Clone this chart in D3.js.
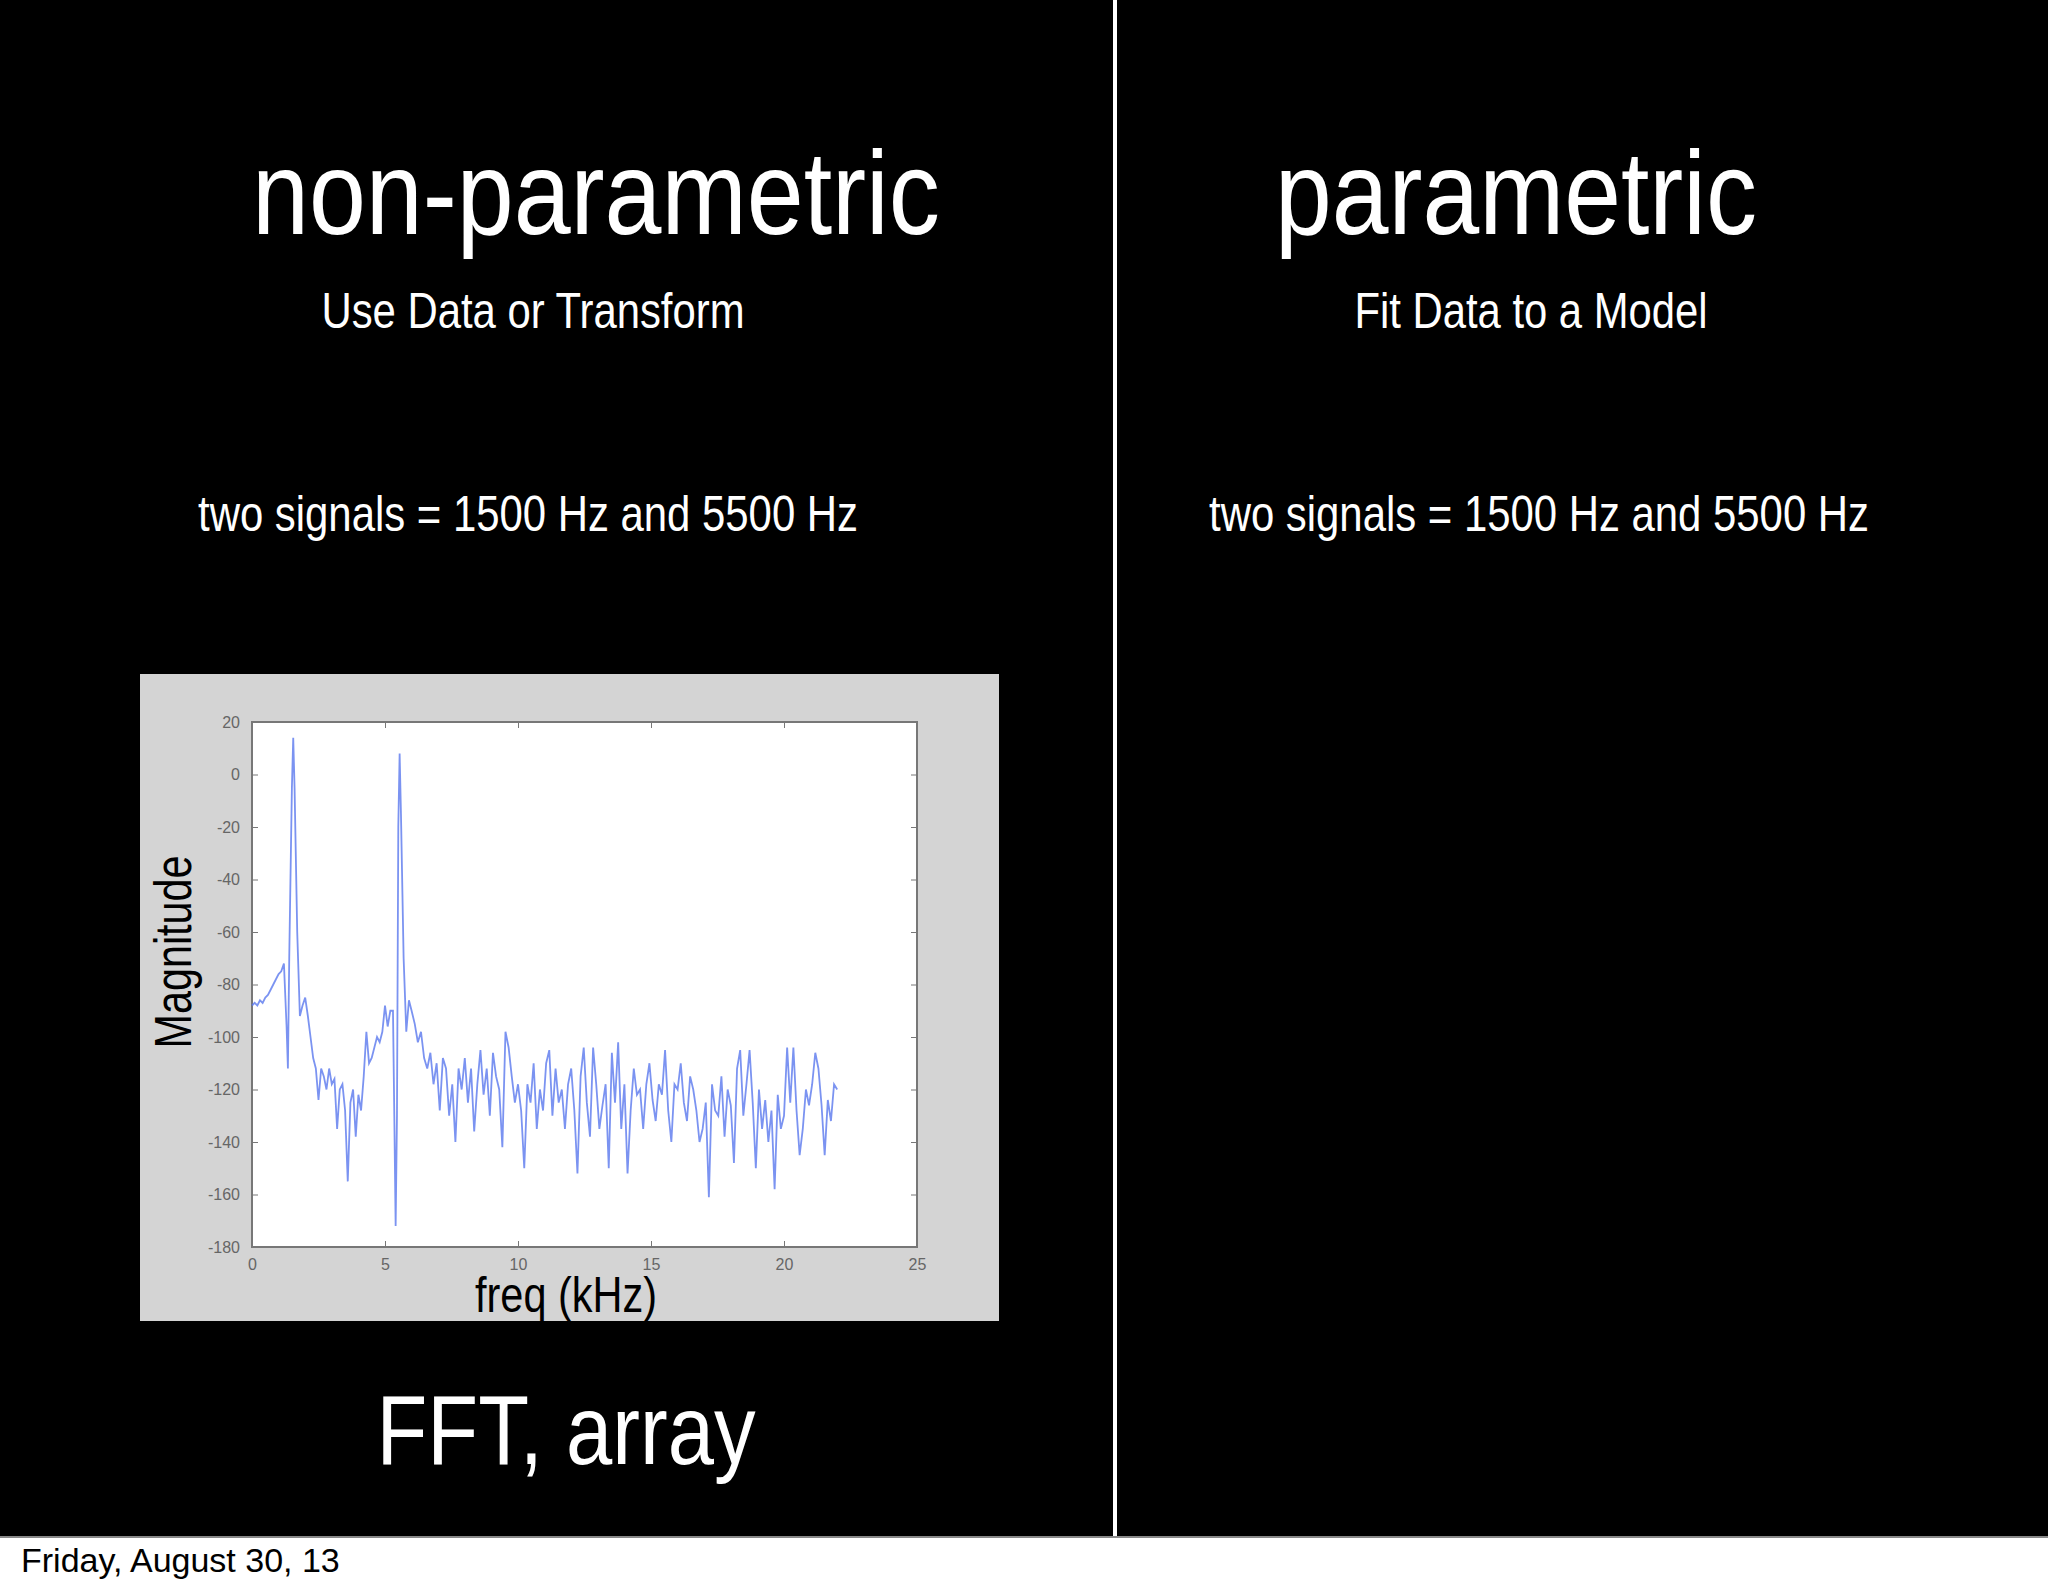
<!DOCTYPE html>
<html><head><meta charset="utf-8">
<script src="https://cdn.jsdelivr.net/npm/d3@7"></script>
<style>body{margin:0;background:#fff}</style></head>
<body><svg id="c" width="2048" height="1593"></svg>
<script>
const xTicks=[0,5,10,15,20,25];
const yTicks=[20,0,-20,-40,-60,-80,-100,-120,-140,-160,-180];
const freqLow=[0,0.1,0.2,0.3,0.4,0.5,0.6,0.7,0.8,0.9,1.0,1.1,1.2,1.3,1.35,1.4,1.5,1.55,1.6,1.7,1.8,1.9,2.0,2.1,2.2,2.3,2.4,2.5,2.6,2.7,2.8,2.9,3.0,3.1,3.2,3.3,3.4,3.5,3.6,3.7,3.8,3.9,4.0,4.1,4.2,4.3,4.4,4.5,4.6,4.7,4.8,4.9,5.0,5.1,5.2,5.3,5.35,5.4,5.45,5.5,5.55,5.6,5.7,5.8,5.9];
const magLow=[-88,-87,-88,-86,-87,-85,-84,-82,-80,-78,-76,-75,-72,-96,-112,-70,-5,14,-5,-60,-92,-88,-85,-92,-100,-108,-112,-124,-112,-115,-120,-112,-118,-116,-135,-120,-118,-128,-155,-125,-120,-138,-122,-128,-115,-98,-110,-108,-104,-100,-102,-98,-88,-96,-90,-90,-130,-172,-130,-20,8,-15,-70,-98,-86];
const magHigh=[-90,-95,-102,-98,-108,-112,-106,-118,-110,-128,-108,-112,-130,-118,-140,-112,-120,-108,-125,-112,-136,-118,-105,-122,-112,-130,-106,-115,-120,-142,-98,-104,-115,-125,-118,-128,-150,-118,-125,-110,-135,-120,-128,-110,-105,-130,-112,-125,-120,-135,-118,-112,-128,-152,-115,-104,-125,-138,-104,-118,-135,-126,-118,-150,-106,-125,-102,-135,-118,-152,-128,-112,-122,-120,-135,-118,-110,-124,-132,-118,-122,-105,-128,-140,-118,-120,-110,-125,-132,-115,-120,-128,-140,-135,-125,-161,-118,-128,-130,-115,-138,-120,-126,-148,-112,-105,-130,-118,-105,-125,-150,-120,-135,-124,-140,-128,-158,-122,-135,-130,-104,-125,-104,-128,-145,-135,-120,-126,-118,-106,-112,-126,-145,-124,-132,-118,-120];
const freqHigh=magHigh.map((d,i)=>+(6.0+i*(22.0-6.0)/(magHigh.length-1)).toFixed(3));
const data=freqLow.map((f,i)=>[f,magLow[i]]).concat(freqHigh.map((f,i)=>[f,magHigh[i]]));

const svg=d3.select("#c");
svg.append("rect").attr("width",2048).attr("height",1537).attr("fill","#000");
svg.append("line").attr("x1",1115).attr("x2",1115).attr("y1",0).attr("y2",1537).attr("stroke","#fff").attr("stroke-width",4);
svg.append("line").attr("x1",0).attr("x2",2048).attr("y1",1537).attr("y2",1537).attr("stroke","#888").attr("stroke-width",2);
const F="'Liberation Sans',sans-serif";
function t(x,y,s,txt,len,fill){return svg.append("text").attr("x",x).attr("y",y).attr("font-size",s).attr("font-family",F).attr("fill",fill||"#fff").attr("text-anchor","middle").attr("textLength",len).attr("lengthAdjust","spacingAndGlyphs").text(txt);}
t(596,234,118,"non-parametric",688);
t(533,328,50,"Use Data or Transform",423);
t(1516,234,118,"parametric",482);
t(1531,328,50,"Fit Data to a Model",353);
t(528,531,50,"two signals = 1500 Hz and 5500 Hz",660);
t(1539,531,50,"two signals = 1500 Hz and 5500 Hz",660);
t(566,1464,98,"FFT, array",379);
svg.append("text").attr("x",21).attr("y",1572).attr("font-size",34).attr("font-family",F).attr("fill","#000").text("Friday, August 30, 13");

svg.append("rect").attr("x",140).attr("y",674).attr("width",859).attr("height",647).attr("fill","#d4d4d4");
const x=d3.scaleLinear().domain([0,25]).range([252,917]);
const y=d3.scaleLinear().domain([-180,20]).range([1247,722]);
svg.append("rect").attr("x",252).attr("y",722).attr("width",665).attr("height",525).attr("fill","#fff").attr("stroke","#777").attr("stroke-width",2);
const fmt=d=>String(d);
const axStyle=g=>{g.selectAll("path").remove();g.selectAll("line").attr("stroke","#777");g.selectAll("text").attr("fill","#666").attr("font-size",16).attr("font-family",F);};
svg.append("g").attr("transform","translate(0,1247)").call(d3.axisBottom(x).tickValues(xTicks).tickSize(-6).tickPadding(12).tickFormat(fmt)).call(axStyle);
svg.append("g").attr("transform","translate(0,722)").call(d3.axisTop(x).tickValues(xTicks).tickSize(-6).tickFormat("")).call(axStyle);
svg.append("g").attr("transform","translate(252,0)").call(d3.axisLeft(y).tickValues(yTicks).tickSize(-6).tickPadding(12).tickFormat(fmt)).call(axStyle);
svg.append("g").attr("transform","translate(917,0)").call(d3.axisRight(y).tickValues(yTicks).tickSize(-6).tickFormat("")).call(axStyle);
svg.append("path").datum(data).attr("d",d3.line().x(d=>x(d[0])).y(d=>y(d[1]))).attr("fill","none").attr("stroke","#5a78ee").attr("stroke-width",1.8).attr("stroke-opacity",0.8);
svg.append("text").attr("transform","translate(191,952) rotate(-90)").attr("text-anchor","middle").attr("font-size",52).attr("font-family",F).attr("fill","#000").attr("textLength",193).attr("lengthAdjust","spacingAndGlyphs").text("Magnitude");
t(566,1312,50,"freq (kHz)",182,"#000");
</script></body></html>
